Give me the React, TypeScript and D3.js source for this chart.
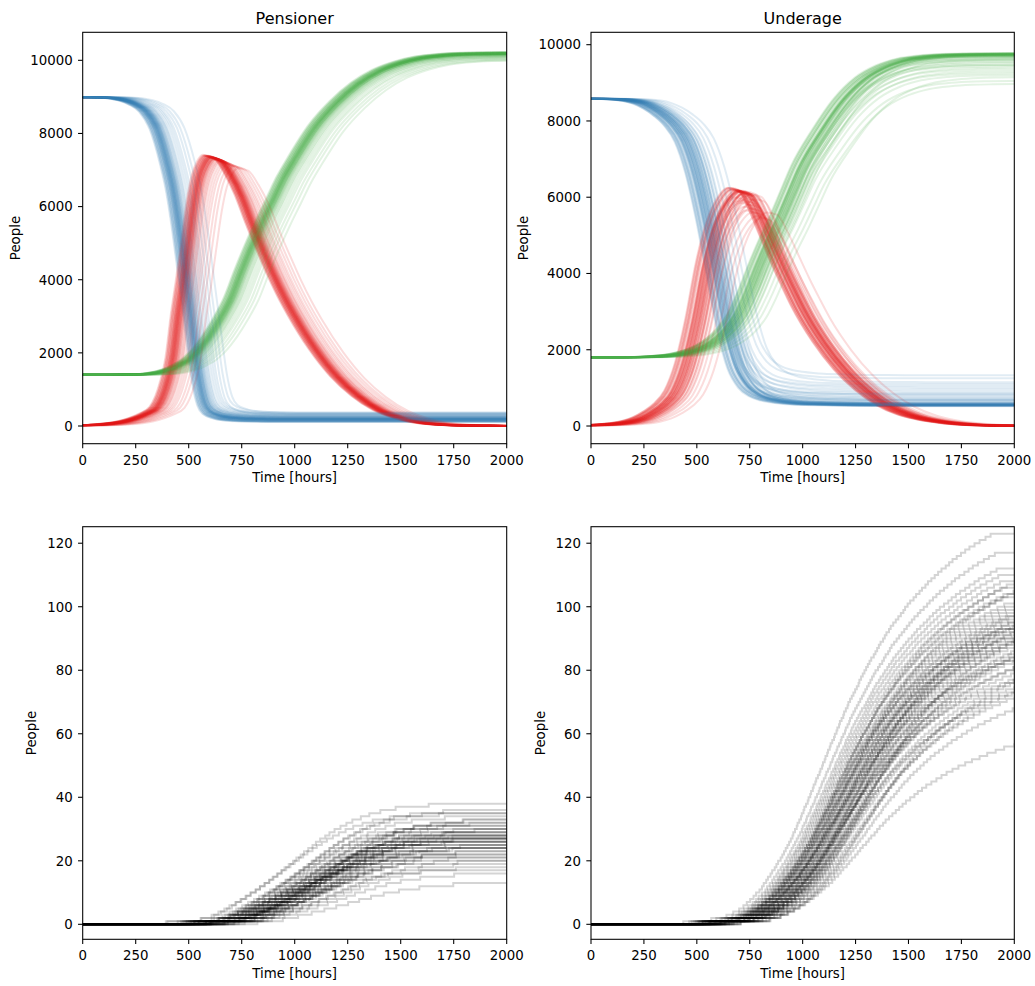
import React from 'react';
import * as d3 from 'd3';

// ---------- tick labels ----------
const TIME_TICKS = [0, 250, 500, 750, 1000, 1250, 1500, 1750, 2000];
const TOP_Y_TICKS = [0, 2000, 4000, 6000, 8000, 10000];
const BOTTOM_Y_TICKS = [0, 20, 40, 60, 80, 100, 120];

// ---------- Pensioner: median S / I / R trajectories (hours, people) ----------
const P_T = [0, 100, 200, 250, 300, 350, 400, 425, 450, 475, 500, 525, 550, 575, 600, 650, 700, 750, 800, 850, 900, 950, 1000, 1100, 1200, 1300, 1400, 1500, 1600, 1700, 1800, 2000];
const P_S = [8990, 8985, 8910, 8800, 8600, 8130, 7160, 6530, 5650, 4590, 3460, 2340, 1270, 640, 410, 280, 230, 210, 200, 195, 190, 190, 190, 190, 190, 190, 190, 190, 190, 190, 190, 190];
const P_I = [20, 50, 130, 210, 330, 516, 1210, 1840, 2990, 3960, 5020, 6060, 6780, 7140, 7310, 7240, 6830, 6250, 5500, 4800, 4130, 3530, 3000, 2080, 1350, 820, 440, 215, 90, 35, 12, 2];
const P_R = [1400, 1400, 1405, 1410, 1425, 1460, 1530, 1580, 1650, 1730, 1820, 1950, 2100, 2280, 2480, 2950, 3500, 4250, 4950, 5600, 6200, 6800, 7300, 8200, 8850, 9350, 9700, 9920, 10060, 10130, 10165, 10185];

// Pensioner: per-run timing offset, final susceptible, final recovered, infection peak
const P_SHIFT = [-7, 5, -18, 20, -28, 0, 12, -4, 35, -13, 8, -21, 60, 15, -9, 3, 25, -35, -6, 45, 10, -14, 80, -2, 18, -25, 6, 30, -11, 110, 1, -20, 14, 50, -4, 22, -32, 9, 130, -15, 4, 40, -10, 16, 70, -3, 28, -27, 95, 2];
const P_S_END = [180, 210, 140, 230, 120, 190, 250, 170, 290, 150, 200, 130, 330, 220, 160, 185, 260, 110, 175, 300, 205, 145, 350, 190, 240, 125, 195, 280, 165, 370, 185, 135, 215, 310, 180, 245, 115, 200, 360, 150, 190, 270, 170, 225, 340, 185, 255, 130, 320, 195];
const P_R_END = [10190, 10175, 10210, 10165, 10220, 10185, 10150, 10190, 10120, 10200, 10180, 10205, 10080, 10170, 10195, 10185, 10140, 10230, 10190, 10100, 10180, 10200, 10050, 10185, 10160, 10215, 10180, 10130, 10195, 10010, 10185, 10205, 10170, 10090, 10190, 10155, 10220, 10180, 10000, 10200, 10185, 10120, 10195, 10165, 10060, 10185, 10145, 10210, 10030, 10180];
const P_I_PEAK = [7350, 7320, 7380, 7300, 7400, 7340, 7280, 7360, 7250, 7370, 7330, 7390, 7200, 7310, 7350, 7340, 7290, 7420, 7360, 7240, 7320, 7380, 7150, 7340, 7300, 7390, 7330, 7270, 7370, 7100, 7340, 7380, 7310, 7220, 7350, 7290, 7400, 7330, 7050, 7370, 7340, 7250, 7360, 7310, 7180, 7340, 7280, 7390, 7120, 7330];

// ---------- Underage: median S / I / R trajectories ----------
const U_T = [0, 100, 200, 250, 300, 350, 400, 450, 500, 550, 600, 650, 700, 750, 800, 850, 900, 950, 1000, 1100, 1200, 1300, 1400, 1500, 1600, 1700, 1800, 1900, 2000];
const U_S = [8580, 8577, 8530, 8460, 8330, 8140, 7880, 7460, 6650, 5450, 4000, 2550, 1530, 1040, 820, 715, 662, 626, 602, 585, 572, 565, 562, 560, 560, 560, 560, 560, 560];
const U_I = [20, 50, 130, 220, 370, 570, 900, 1600, 2750, 4200, 5250, 5850, 6120, 6050, 5550, 4900, 4250, 3650, 3080, 2170, 1460, 930, 545, 300, 160, 80, 35, 15, 5];
const U_R = [1800, 1800, 1805, 1810, 1820, 1840, 1870, 1920, 2000, 2120, 2300, 2560, 2950, 3550, 4250, 4900, 5500, 6150, 6800, 7750, 8550, 9100, 9420, 9600, 9680, 9720, 9735, 9742, 9745];

const U_SHIFT = [-10, 15, -30, 30, -45, 0, 45, -18, 10, -55, 25, -38, 60, 5, -22, 20, -5, 80, -14, 35, -50, 8, -26, 50, -2, 18, -34, 12, -8, 100, 28, -42, 3, -16, 40, -52, 22, -11, 130, 7, -24, 55, -3, 32, -40, 14, 70, -20, 38, -6];
const U_S_END = [560, 600, 540, 750, 530, 570, 900, 550, 650, 520, 580, 540, 1100, 560, 620, 700, 550, 1250, 590, 820, 530, 560, 680, 1000, 540, 600, 560, 780, 530, 1330, 550, 600, 860, 560, 640, 540, 950, 570, 1150, 545, 720, 580, 560, 1050, 550, 600, 680, 540, 570, 830];
const U_R_END = [9740, 9700, 9760, 9550, 9770, 9730, 9400, 9750, 9650, 9780, 9720, 9760, 9200, 9740, 9680, 9600, 9750, 9050, 9710, 9480, 9770, 9740, 9620, 9300, 9760, 9700, 9740, 9520, 9770, 8970, 9750, 9700, 9440, 9740, 9660, 9760, 9350, 9730, 9150, 9755, 9580, 9720, 9740, 9250, 9750, 9700, 9620, 9760, 9730, 9470];
const U_I_PEAK = [6150, 6100, 6200, 5950, 6250, 6150, 5800, 6180, 6050, 6250, 6120, 6220, 5600, 6150, 6080, 6000, 6170, 5500, 6120, 5880, 6230, 6150, 6020, 5700, 6180, 6100, 6200, 5920, 6170, 5450, 6150, 6180, 5850, 6160, 6050, 6240, 5750, 6150, 5600, 6160, 5980, 6080, 6150, 5650, 6200, 6100, 5950, 6180, 6100, 5900];

// ---------- cumulative deaths: median curves ----------
const D_T = [0, 300, 500, 600, 700, 750, 800, 850, 900, 950, 1000, 1050, 1100, 1150, 1200, 1250, 1300, 1400, 1500, 1600, 1700, 1800, 1900, 2000];
const P_D = [0, 0.1, 0.3, 0.6, 1.2, 2, 3.3, 4.8, 6.4, 8, 9.7, 11.6, 13.5, 15.5, 17.4, 19.2, 20.8, 23.3, 25, 26, 26.5, 26.8, 26.9, 27];
const U_D = [0, 0.1, 0.25, 0.6, 1.4, 2.0, 3.4, 5.5, 8.2, 11.8, 15.9, 20.6, 26.2, 32.2, 38.2, 44.2, 50.1, 60.2, 68.5, 75.1, 80.5, 84.9, 88.6, 91.5];

const P_D_END = [27, 24, 30, 22, 33, 26, 28, 19, 35, 25, 29, 21, 31, 27, 16, 34, 23, 28, 26, 38, 20, 29, 24, 32, 27, 13, 30, 25, 22, 36, 28, 26, 18, 31, 24, 27, 33, 21, 29, 25, 17, 30, 26, 23, 35, 28, 20, 32, 27, 24];
const P_D_SHIFT = [0, -40, 30, -80, 60, 10, -20, 90, -60, 20, -10, 50, -100, 40, 120, -30, 70, -50, 5, -120, 100, -70, 25, -15, 45, 150, -90, 15, 80, -45, 35, -5, 110, -25, 55, -35, 65, -110, 0, 85, -55, 130, -65, 75, -140, 18, -12, 95, -75, 38];
const U_D_END = [92, 88, 97, 80, 104, 95, 76, 108, 90, 85, 100, 123, 94, 82, 117, 89, 73, 98, 91, 86, 106, 58, 93, 101, 78, 96, 87, 110, 84, 99, 75, 92, 103, 81, 95, 70, 89, 107, 94, 77, 112, 86, 98, 83, 90, 105, 79, 97, 93, 74];
const U_D_SHIFT = [0, 20, -25, 40, -40, -12, 60, -55, 10, 30, -32, -100, -5, 50, -80, 15, 70, -20, 5, 25, -48, 80, -8, -36, 55, -16, 35, -62, 45, -28, 90, 100, -44, 15, 40, 100, -16, -24, 60, -8, -70, 70, 20, -32, -48, 10, 110, 50, -62, 30];

const COLORS = { s: '#377eb8', i: '#e41a1c', r: '#4daf4a' };
const FONT = '"DejaVu Sans", "Liberation Sans", sans-serif';

type Panel = {
  id: string;
  x0: number; x1: number; y0: number; y1: number;
  yDomain: [number, number];
  yTicks: number[];
  title?: string;
  yLabelDx: number;
};

const PANELS: Record<string, Panel> = {
  tl: { id: 'tl', x0: 82.7, x1: 506.7, y0: 32.3, y1: 443.7, yDomain: [-484, 10766], yTicks: TOP_Y_TICKS, title: 'Pensioner', yLabelDx: 63 },
  tr: { id: 'tr', x0: 591, x1: 1014.3, y0: 32.3, y1: 443.7, yDomain: [-464, 10325], yTicks: TOP_Y_TICKS, title: 'Underage', yLabelDx: 63.3 },
  bl: { id: 'bl', x0: 82.7, x1: 506.7, y0: 526.7, y1: 939.3, yDomain: [-4.72, 125.2], yTicks: BOTTOM_Y_TICKS, yLabelDx: 47.2 },
  br: { id: 'br', x0: 591, x1: 1014.3, y0: 526.7, y1: 939.3, yDomain: [-4.72, 125.2], yTicks: BOTTOM_Y_TICKS, yLabelDx: 46.5 },
};

function scales(p: Panel) {
  const x = d3.scaleLinear().domain([0, 2000]).range([p.x0, p.x1]);
  const y = d3.scaleLinear().domain(p.yDomain).range([p.y1, p.y0]);
  return { x, y };
}

function sirPaths(p: Panel, T: number[], S: number[], I: number[], R: number[], shifts: number[], sEnd: number[], rEnd: number[], iPeak: number[]) {
  const { x, y } = scales(p);
  const s0 = S[0], sE = S[S.length - 1], r0 = R[0], rE = R[R.length - 1];
  const iMax = d3.max(I) as number;
  const line = d3.line<[number, number]>().x(d => x(d[0])).y(d => y(d[1])).curve(d3.curveMonotoneX);
  return shifts.map((dt, k) => {
    const pts = (vals: number[]) => {
      const arr: [number, number][] = T.map((t, i) => [t + dt, vals[i]] as [number, number]);
      if (dt > 0) arr.unshift([0, vals[0]]);
      if (T[T.length - 1] + dt < 2000) arr.push([2000, vals[vals.length - 1]]);
      return arr;
    };
    const sv = S.map(v => sEnd[k] + (v - sE) * (s0 - sEnd[k]) / (s0 - sE));
    const iv = I.map(v => v * iPeak[k] / iMax);
    const rv = R.map(v => r0 + (v - r0) * (rEnd[k] - r0) / (rE - r0));
    return { s: line(pts(sv)) as string, i: line(pts(iv)) as string, r: line(pts(rv)) as string };
  });
}

function deathPaths(p: Panel, D: number[], ends: number[], shifts: number[]) {
  const { x, y } = scales(p);
  const f = d3.scaleLinear().domain(D_T).range(D).clamp(true);
  const dE = D[D.length - 1];
  const line = d3.line<[number, number]>().x(d => x(d[0])).y(d => y(d[1])).curve(d3.curveStepAfter);
  return ends.map((e, k) => {
    const pts: [number, number][] = [];
    let prev = -1;
    for (let t = 0; t <= 2000; t += 4) {
      const v = Math.round(e * f(t - shifts[k]) / dE);
      if (v !== prev) { pts.push([t, v]); prev = v; }
    }
    pts.push([2000, prev]);
    return line(pts) as string;
  });
}

function AxesFrame({ p }: { p: Panel }) {
  const { x, y } = scales(p);
  const tl = 4.67;
  const sw = 1.07;
  return (
    <g fontFamily={FONT} fill="#000">
      <rect x={p.x0} y={p.y0} width={p.x1 - p.x0} height={p.y1 - p.y0} fill="none" stroke="#000" strokeWidth={sw} />
      {TIME_TICKS.map(t => (
        <g key={'x' + t}>
          <line x1={x(t)} x2={x(t)} y1={p.y1} y2={p.y1 + tl} stroke="#000" strokeWidth={sw} />
          <text x={x(t)} y={p.y1 + 21} textAnchor="middle" fontSize={13.33}>{t}</text>
        </g>
      ))}
      {p.yTicks.map(v => (
        <g key={'y' + v}>
          <line x1={p.x0 - tl} x2={p.x0} y1={y(v)} y2={y(v)} stroke="#000" strokeWidth={sw} />
          <text x={p.x0 - 10} y={y(v) + 4.8} textAnchor="end" fontSize={13.33}>{v}</text>
        </g>
      ))}
      <text x={(p.x0 + p.x1) / 2} y={p.y1 + 38.7} textAnchor="middle" fontSize={13.33}>Time [hours]</text>
      <text transform={`translate(${p.x0 - p.yLabelDx},${(p.y0 + p.y1) / 2}) rotate(-90)`} textAnchor="middle" fontSize={13.33}>People</text>
      {p.title && <text x={(p.x0 + p.x1) / 2} y={24} textAnchor="middle" fontSize={16}>{p.title}</text>}
    </g>
  );
}

function ClipDef({ p }: { p: Panel }) {
  return (
    <clipPath id={'clip-' + p.id}>
      <rect x={p.x0} y={p.y0} width={p.x1 - p.x0} height={p.y1 - p.y0} />
    </clipPath>
  );
}

function SirPanel({ p, runs }: { p: Panel; runs: { s: string; i: string; r: string }[] }) {
  return (
    <g clipPath={`url(#clip-${p.id})`} fill="none" strokeWidth={2} strokeOpacity={0.15} strokeLinejoin="round">
      {runs.map((r, k) => (
        <g key={k}>
          <path d={r.s} stroke={COLORS.s} />
          <path d={r.i} stroke={COLORS.i} />
          <path d={r.r} stroke={COLORS.r} />
        </g>
      ))}
    </g>
  );
}

function DeathPanel({ p, runs }: { p: Panel; runs: string[] }) {
  return (
    <g clipPath={`url(#clip-${p.id})`} fill="none" strokeWidth={2} strokeOpacity={0.17}>
      {runs.map((d, k) => <path key={k} d={d} stroke="#000" />)}
    </g>
  );
}

export default function App() {
  const pRuns = sirPaths(PANELS.tl, P_T, P_S, P_I, P_R, P_SHIFT, P_S_END, P_R_END, P_I_PEAK);
  const uRuns = sirPaths(PANELS.tr, U_T, U_S, U_I, U_R, U_SHIFT, U_S_END, U_R_END, U_I_PEAK);
  const pDeaths = deathPaths(PANELS.bl, P_D, P_D_END, P_D_SHIFT);
  const uDeaths = deathPaths(PANELS.br, U_D, U_D_END, U_D_SHIFT);
  return (
    <svg width={1035} height={986} style={{ position: 'absolute', left: 0, top: 0, background: '#fff' }}>
      <defs>
        {Object.values(PANELS).map(p => <ClipDef key={p.id} p={p} />)}
      </defs>
      <rect x={0} y={0} width={1035} height={986} fill="#fff" />
      <SirPanel p={PANELS.tl} runs={pRuns} />
      <SirPanel p={PANELS.tr} runs={uRuns} />
      <DeathPanel p={PANELS.bl} runs={pDeaths} />
      <DeathPanel p={PANELS.br} runs={uDeaths} />
      {Object.values(PANELS).map(p => <AxesFrame key={p.id} p={p} />)}
    </svg>
  );
}
